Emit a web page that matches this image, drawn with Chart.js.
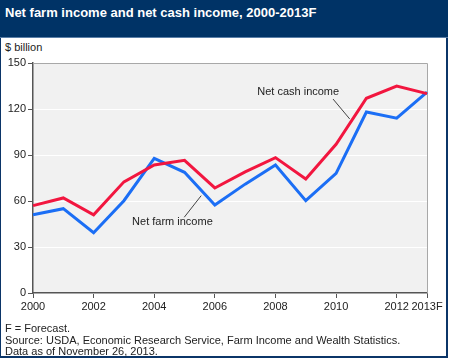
<!DOCTYPE html>
<html>
<head>
<meta charset="utf-8">
<script src="https://cdn.jsdelivr.net/npm/chart.js@4"></script>
<style>
  html, body { margin: 0; padding: 0; background: #fff; }
  body { width: 450px; height: 360px; position: relative; overflow: hidden; font-family: "Liberation Sans", Arial, sans-serif; }
  #frame { position: absolute; left: 0; top: 0; width: 445px; height: 356px; border: 1px solid #0b3568; border-width: 0 2px 2px 1px; box-sizing: content-box; }
  #header { position: absolute; left: 0; top: 0; width: 448px; height: 37px; background: #003366; border-bottom: 1px solid #5a7fa8; }
  #title { position: absolute; left: 5px; top: 5px; color: #fff; font-weight: bold; font-size: 13px; }
  #unit { position: absolute; left: 5px; top: 41px; font-size: 11px; color: #222; }
  #foot { position: absolute; left: 5px; top: 323px; font-size: 11px; color: #222; line-height: 11.5px; }
  #wrap { position: absolute; left: 0; top: 0; width: 450px; height: 360px; }
</style>
</head>
<body>
<div id="frame"></div>
<div id="header"><div id="title">Net farm income and net cash income, 2000-2013F</div></div>
<div id="unit">$ billion</div>
<div id="wrap"><canvas id="c" width="450" height="360"></canvas></div>
<div id="foot">F = Forecast.<br>Source: USDA, Economic Research Service, Farm Income and Wealth Statistics.<br>Data as of November 26, 2013.</div>
<script>
const years = [2000, 2001, 2002, 2003, 2004, 2005, 2006, 2007, 2008, 2009, 2010, 2011, 2012, 2013];
const netCashIncome = [57, 62, 51, 72.5, 83.5, 86.5, 68.5, 79, 88.3, 74.3, 97, 127, 135, 130];
const netFarmIncome = [51, 55, 39.3, 60.2, 87.8, 78.7, 57.4, 71, 83.5, 60.2, 78, 118, 114, 131];
const xTickValues = [2000, 2002, 2004, 2006, 2008, 2010, 2012, 2013];
const xTickLabels = ['2000', '2002', '2004', '2006', '2008', '2010', '2012', '2013F'];
const yTickValues = [0, 30, 60, 90, 120, 150];
const annotations = [
  { text: 'Net cash income', x: 2008.75, y: 131, line: [[2009.9, 126.5], [2010.45, 113.5]] },
  { text: 'Net farm income', x: 2004.6, y: 46.3, line: [[2004.99, 49.4], [2005.55, 63.5]] }
];

const RED = '#f2163f', BLUE = '#1b6ef5';
const AXIS = '#555555';

const decor = {
  id: 'decor',
  beforeDraw(chart) {
    const a = chart.chartArea, ctx = chart.ctx;
    ctx.save();
    ctx.fillStyle = '#f1f1f1';
    ctx.fillRect(a.left, a.top, a.right - a.left, a.bottom - a.top);
    ctx.restore();
  },
  beforeDatasetsDraw(chart) {
    const a = chart.chartArea, ctx = chart.ctx;
    ctx.save();
    ctx.strokeStyle = '#a8a8a8';
    ctx.lineWidth = 1;
    ctx.beginPath();
    ctx.moveTo(a.left, a.top + 0.5);
    ctx.lineTo(a.right + 0.5, a.top + 0.5);
    ctx.lineTo(a.right + 0.5, a.bottom);
    ctx.stroke();
    ctx.restore();
  },
  afterDatasetsDraw(chart) {
    const ctx = chart.ctx, xs = chart.scales.x, ys = chart.scales.y;
    ctx.save();
    ctx.font = '11px "Liberation Sans", Arial, sans-serif';
    ctx.fillStyle = '#222';
    ctx.textAlign = 'center';
    ctx.textBaseline = 'middle';
    ctx.strokeStyle = '#444';
    ctx.lineWidth = 1;
    annotations.forEach(an => {
      ctx.fillText(an.text, xs.getPixelForValue(an.x), ys.getPixelForValue(an.y));
      ctx.beginPath();
      ctx.moveTo(xs.getPixelForValue(an.line[0][0]), ys.getPixelForValue(an.line[0][1]));
      ctx.lineTo(xs.getPixelForValue(an.line[1][0]), ys.getPixelForValue(an.line[1][1]));
      ctx.stroke();
    });
    ctx.restore();
  }
};

new Chart(document.getElementById('c'), {
  type: 'line',
  data: {
    datasets: [
      { label: 'Net cash income', data: years.map((y, i) => ({ x: y, y: netCashIncome[i] })), borderColor: RED, borderWidth: 3, pointRadius: 0, tension: 0, clip: false },
      { label: 'Net farm income', data: years.map((y, i) => ({ x: y, y: netFarmIncome[i] })), borderColor: BLUE, borderWidth: 3, pointRadius: 0, tension: 0, clip: false }
    ]
  },
  options: {
    responsive: false,
    animation: false,
    events: [],
    layout: { padding: { left: 0, top: 63, right: 23, bottom: 0 } },
    plugins: { legend: { display: false }, tooltip: { enabled: false } },
    scales: {
      x: {
        type: 'linear', min: 2000, max: 2013,
        afterBuildTicks(s) { s.ticks = xTickValues.map(v => ({ value: v })); },
        afterFit(s) { s.height = 67; },
        ticks: {
          autoSkip: false, maxRotation: 0, padding: 2,
          color: '#222', font: { size: 11, family: '"Liberation Sans", Arial, sans-serif' },
          callback: (v) => xTickLabels[xTickValues.indexOf(v)]
        },
        grid: { drawOnChartArea: false, drawTicks: true, tickLength: 5, color: AXIS, lineWidth: 1 },
        border: { display: true, color: AXIS, width: 1.5 }
      },
      y: {
        min: 0, max: 150,
        afterBuildTicks(s) { s.ticks = yTickValues.map(v => ({ value: v })); },
        afterFit(s) { s.width = 33; },
        ticks: { padding: 2, color: '#222', font: { size: 11, family: '"Liberation Sans", Arial, sans-serif' } },
        grid: { color: '#ffffff', lineWidth: 1, tickColor: AXIS, tickLength: 5 },
        border: { display: true, color: AXIS, width: 1.5 }
      }
    }
  },
  plugins: [decor]
});
</script>
</body>
</html>
